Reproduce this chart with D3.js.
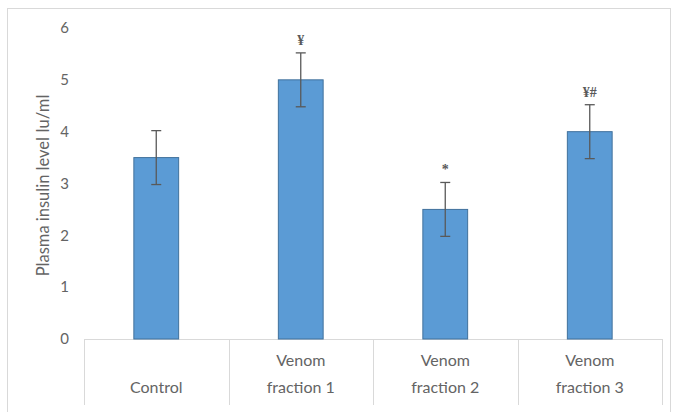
<!DOCTYPE html>
<html>
<head>
<meta charset="utf-8">
<script src="https://cdn.jsdelivr.net/npm/d3@7"></script>
<style>
  body { margin: 0; background: #fff; }
  svg { font-family: Lato, "Open Sans", sans-serif; }
</style>
</head>
<body>
<svg id="chart" width="675" height="412"></svg>
<script>
// chart data
const categories = [["", "Control"], ["Venom", "fraction 1"], ["Venom", "fraction 2"], ["Venom", "fraction 3"]];
const values = [3.5, 5.0, 2.5, 4.0];
const errors = [0.52, 0.52, 0.52, 0.52];
const marks = ["", "¥", "*", "¥#"];
const yTicks = [0, 1, 2, 3, 4, 5, 6];

const svg = d3.select("#chart");
const plotLeft = 84, plotRight = 662, plotTop = 28, plotBottom = 339;

// outer frame
svg.append("rect")
    .attr("x", 7.5).attr("y", 8.5)
    .attr("width", 663).attr("height", 420)
    .attr("fill", "none")
    .attr("stroke", "#d9d9d9");

const x = d3.scaleBand()
    .domain(d3.range(categories.length))
    .range([plotLeft, plotRight])
    .padding(0);

const y = d3.scaleLinear()
    .domain([0, 6])
    .range([plotBottom, plotTop]);

const barW = x.bandwidth() * 0.31;

// y tick labels
svg.append("g")
    .selectAll("text")
    .data(yTicks).enter()
    .append("text")
    .attr("x", 69)
    .attr("y", d => y(d))
    .attr("dy", "0.35em")
    .attr("text-anchor", "end")
    .attr("fill", "#646464")
    .style("font-size", "15px")
    .text(d => d);

// y axis title
svg.append("text")
    .attr("transform", `translate(49,${(plotTop + plotBottom) / 2 + 2}) rotate(-90)`)
    .attr("text-anchor", "middle")
    .attr("fill", "#646464")
    .style("font-size", "16.5px")
    .text("Plasma insulin level Iu/ml");

// category table
const table = svg.append("g")
    .attr("stroke", "#d9d9d9")
    .attr("stroke-width", 1);
table.append("line")
    .attr("x1", plotLeft).attr("x2", plotRight)
    .attr("y1", plotBottom + 0.5).attr("y2", plotBottom + 0.5);
table.selectAll("line.v")
    .data(d3.range(categories.length + 1)).enter()
    .append("line")
    .attr("class", "v")
    .attr("x1", d => Math.round(plotLeft + d * x.step()) + 0.5)
    .attr("x2", d => Math.round(plotLeft + d * x.step()) + 0.5)
    .attr("y1", plotBottom)
    .attr("y2", 405);

const labels = svg.append("g")
    .attr("fill", "#646464")
    .attr("text-anchor", "middle")
    .style("font-size", "16px");
labels.selectAll("text.l1")
    .data(categories).enter()
    .append("text")
    .attr("x", (d, i) => x(i) + x.bandwidth() / 2)
    .attr("y", 366)
    .text(d => d[0]);
labels.selectAll("text.l2")
    .data(categories).enter()
    .append("text")
    .attr("x", (d, i) => x(i) + x.bandwidth() / 2)
    .attr("y", 393)
    .text(d => d[1]);

// bars
svg.append("g")
    .selectAll("rect")
    .data(values).enter()
    .append("rect")
    .attr("x", (d, i) => x(i) + (x.bandwidth() - barW) / 2)
    .attr("y", d => y(d))
    .attr("width", barW)
    .attr("height", d => y(0) - y(d))
    .attr("fill", "#5b9bd5")
    .attr("stroke", "#41719c")
    .attr("stroke-width", 1);

// error bars
const err = svg.append("g")
    .attr("stroke", "#595959")
    .attr("stroke-width", 1.3);
values.forEach((v, i) => {
    const cx = x(i) + x.bandwidth() / 2;
    const hi = y(v + errors[i]), lo = y(v - errors[i]);
    err.append("line").attr("x1", cx).attr("x2", cx).attr("y1", hi).attr("y2", lo);
    err.append("line").attr("x1", cx - 5).attr("x2", cx + 5).attr("y1", hi).attr("y2", hi);
    err.append("line").attr("x1", cx - 5).attr("x2", cx + 5).attr("y1", lo).attr("y2", lo);
});

// significance marks
svg.append("g")
    .selectAll("text")
    .data(marks).enter()
    .append("text")
    .attr("x", (d, i) => x(i) + x.bandwidth() / 2)
    .attr("y", (d, i) => y(values[i] + errors[i]) - 8)
    .attr("text-anchor", "middle")
    .attr("fill", "#595959")
    .style("font-family", "'Liberation Serif', serif")
    .style("font-weight", "bold")
    .style("font-size", "14px")
    .text(d => d);
</script>
</body>
</html>
